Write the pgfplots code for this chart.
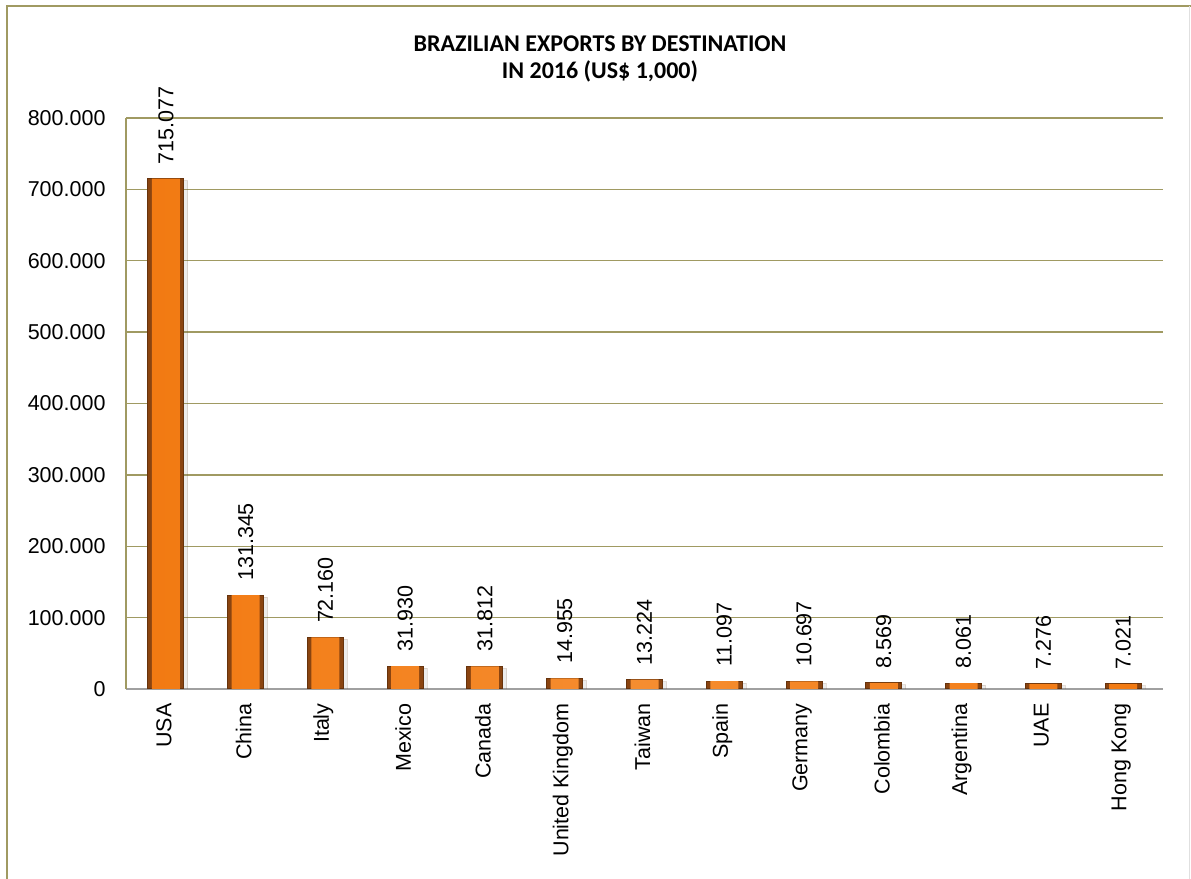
\documentclass[border=0pt]{standalone}
\usepackage{fontspec}
\setmainfont{Liberation Sans}
\newfontfamily\titlefont{Carlito}
\usepackage{pgfplots}
\pgfplotsset{compat=1.18}
\usetikzlibrary{shadows}

\definecolor{gridolive}{HTML}{A09A62}
\definecolor{barorange}{HTML}{F27A12}
\definecolor{barlight}{HTML}{F79A45}
\definecolor{baredge}{HTML}{8A4410}
\definecolor{baselinegray}{HTML}{A0A0A0}

\pgfplotstableread{
x  value
0  715077
1  131345
2  72160
3  31930
4  31812
5  14955
6  13224
7  11097
8  10697
9  8569
10 8061
11 7276
12 7021
}\exports

\begin{document}
\begin{tikzpicture}[x=1bp,y=1bp]
\useasboundingbox (0,0) rectangle (1191,879);
% chart-area frame
\draw[gridolive, line width=1.8bp] (7,0) -- (7,873) -- (1191,873);
\draw[black!12, line width=1bp] (1189,0) -- (1189,873);

\begin{axis}[
  at={(126bp,190bp)}, anchor=south west,
  scale only axis, width=1037bp, height=571bp,
  xmin=-0.5, xmax=12.5, ymin=0, ymax=800000,
  ytick={0,100000,...,800000},
  xtick={0,...,12},
  xticklabels={USA,China,Italy,Mexico,Canada,United Kingdom,Taiwan,Spain,Germany,Colombia,Argentina,UAE,Hong Kong},
  axis lines*=left,
  x axis line style={baselinegray, line width=1.5bp, -},
  y axis line style={gridolive, line width=1.5bp, -},
  ymajorgrids, grid style={gridolive, line width=1.3bp},
  major tick length=0pt,
  scaled y ticks=false,
  /pgf/number format/assume math mode=true,
  /pgf/number format/.cd, fixed, 1000 sep={.}, /pgfplots/.cd,
  tick label style={font=\fontsize{21.5bp}{25bp}\selectfont},
  yticklabel style={xshift=-17bp},
  % shifts are given in the rotated frame of the label
  xticklabel style={rotate=90, anchor=east, xshift=-11bp, yshift=2bp},
  ybar, bar shift=0pt,
]
% dark bevelled body of each bar, with its value above it
\addplot[
  fill=baredge, draw=baredge!75!black, line width=1bp, bar width=36bp,
  drop shadow={shadow xshift=4bp, shadow yshift=-2bp, opacity=0.15},
  nodes near coords,
  nodes near coords style={font=\fontsize{21.5bp}{25bp}\selectfont, rotate=90, anchor=west, inner xsep=14bp, text=black},
] table[x=x, y=value] {\exports};
% bright front face
\addplot[
  draw=none, bar width=28bp,
  left color=barorange, right color=barorange, middle color=barlight!60!barorange,
] table[x=x, y=value] {\exports};
\end{axis}

\node[font=\titlefont\bfseries\fontsize{24bp}{27bp}\selectfont, align=center] at (600,820)
  {BRAZILIAN EXPORTS BY DESTINATION\\IN 2016 (US\$ 1,000)};
\end{tikzpicture}
\end{document}
